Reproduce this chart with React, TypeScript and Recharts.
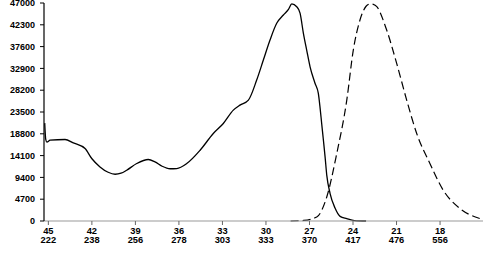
import React from "react";
import { LineChart, Line, XAxis, YAxis } from "recharts";

const solidX = [45.25, 45.18, 45.1, 44.88, 43.85, 43.28, 42.47, 42.01, 41.44, 40.88, 40.4, 39.99, 39.6, 38.91, 38.11, 37.65, 37.16, 36.61, 36.15, 35.46, 34.54, 33.63, 32.94, 32.25, 31.79, 31.21, 30.64, 30.18, 29.72, 29.26, 28.8, 28.45, 28.22, 27.88, 27.65, 27.42, 27.19, 26.96, 26.62, 26.39, 26.27, 26.16, 26.04, 25.93, 25.81, 25.58, 25.24, 24.89, 24.43, 23.9, 23.1];
const solidY = [21100, 17600, 17000, 17420, 17570, 16840, 15630, 13470, 11660, 10510, 10080, 10300, 10950, 12390, 13260, 12740, 11810, 11270, 11310, 12390, 15260, 18870, 21030, 23900, 24980, 26060, 30380, 34700, 39020, 42620, 44410, 45600, 46800, 46200, 44800, 40460, 36800, 33250, 29700, 27500, 24400, 21030, 17400, 14000, 9900, 5920, 2800, 1000, 520, 100, 0];

const dashedX = [28.3, 27.4, 26.5, 25.81, 25.12, 24.43, 23.98, 23.52, 23.1, 22.83, 22.6, 22.36, 21.68, 20.99, 20.3, 19.61, 18.7, 17.78, 16.63, 15.25];
const dashedY = [0, 120, 860, 5180, 14550, 26060, 36850, 43330, 46300, 46800, 46700, 46200, 41170, 33980, 26060, 18870, 12390, 6630, 2680, 520];

const xTicks = [45, 42, 39, 36, 33, 30, 27, 24, 21, 18];
const xTicksSecond = ["222", "238", "256", "278", "303", "333", "370", "417", "476", "556"];
const yTicks = [0, 4700, 9400, 14100, 18800, 23500, 28200, 32900, 37600, 42300, 47000];

const solidData = solidX.map((x, i) => ({ x, y: solidY[i] }));
const dashedData = dashedX.map((x, i) => ({ x, y: dashedY[i] }));

const FONT = "'Liberation Sans', Arial, sans-serif";

const XTick = (props: any) => {
  const { x, y, payload } = props;
  const idx = xTicks.indexOf(payload.value);
  return (
    <g>
      <text x={x} y={y + 9} textAnchor="middle" fontFamily={FONT} fontSize={9.3} fontWeight="bold" fill="#000">
        {payload.value}
      </text>
      <text x={x} y={y + 18.4} textAnchor="middle" fontFamily={FONT} fontSize={9.3} fontWeight="bold" fill="#000">
        {idx >= 0 ? xTicksSecond[idx] : ""}
      </text>
    </g>
  );
};

export default function App() {
  return (
    <div style={{ position: "absolute", left: 0, top: 0, width: 501, height: 265, background: "#fff" }}>
      <LineChart width={501} height={265} margin={{ top: 3, right: 18, left: 0, bottom: 0 }}>
        <XAxis
          type="number"
          dataKey="x"
          domain={[15.04, 45.3]}
          reversed
          allowDataOverflow
          ticks={xTicks}
          interval={0}
          height={44}
          tickSize={4}
          tickMargin={0}
          axisLine={{ stroke: "#999", strokeWidth: 1 }}
          tickLine={{ stroke: "#666" }}
          tick={<XTick />}
        />
        <YAxis
          type="number"
          dataKey="y"
          domain={[0, 47000]}
          ticks={yTicks}
          interval={0}
          width={44}
          tickSize={4}
          tickMargin={5}
          axisLine={{ stroke: "#000", strokeWidth: 1.2 }}
          tickLine={{ stroke: "#000" }}
          tick={{ fontFamily: FONT, fontSize: 9, fontWeight: "bold", fill: "#000" }}
        />
        <Line
          data={solidData}
          dataKey="y"
          type="monotone"
          stroke="#000"
          strokeWidth={1.3}
          dot={false}
          isAnimationActive={false}
        />
        <Line
          data={dashedData}
          dataKey="y"
          type="monotone"
          stroke="#000"
          strokeWidth={1.2}
          strokeDasharray="8 4"
          dot={false}
          isAnimationActive={false}
        />
      </LineChart>
    </div>
  );
}
